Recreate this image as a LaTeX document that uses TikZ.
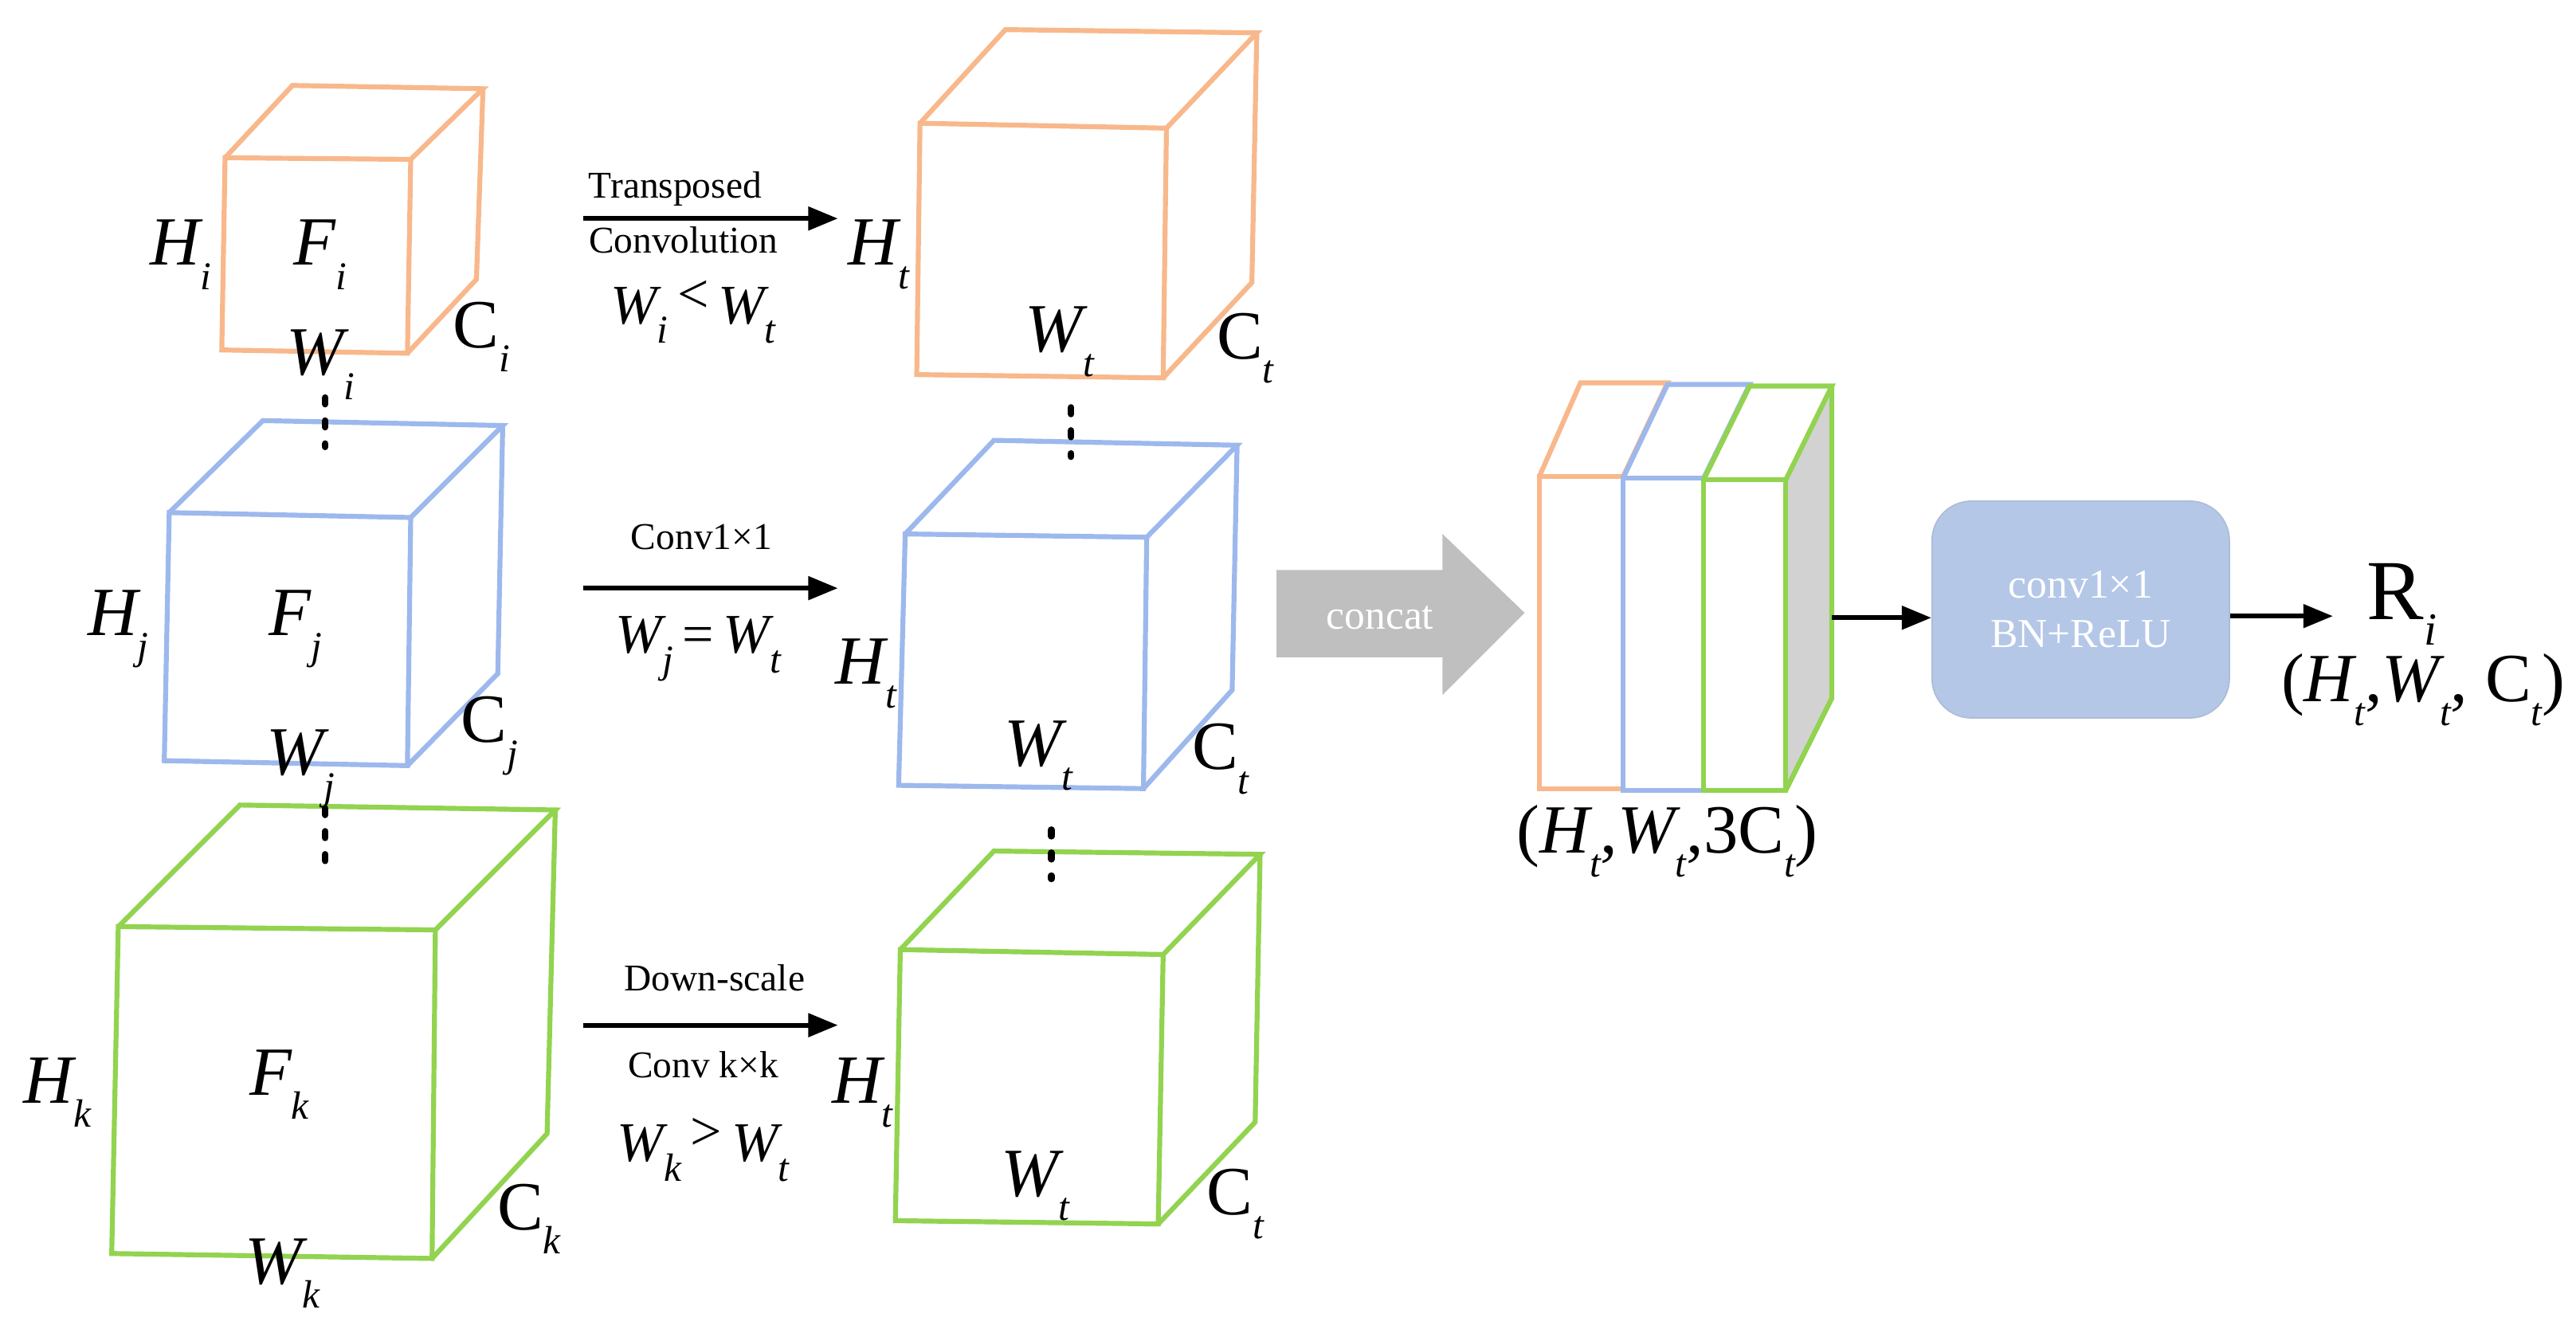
\documentclass[tikz,border=0pt]{standalone}
\usepackage{fontspec}
\setmainfont{Liberation Serif}
\usetikzlibrary{arrows.meta,shapes.arrows}
\definecolor{cor}{HTML}{F8B88B}
\definecolor{cbl}{HTML}{9DB8EC}
\definecolor{cgr}{HTML}{92D34F}
\definecolor{cbox}{HTML}{B4C7E7}
\newcommand{\vl}[2]{{\itshape #1\raisebox{-0.35em}{\fontsize{12}{12}\selectfont #2}}}
\newcommand{\cl}[1]{C\raisebox{-0.35em}{\fontsize{12}{12}\selectfont\itshape #1}}
\tikzset{
  x=0.5pt,y=-0.5pt,
  cube/.style={line width=1.5pt,line join=miter},
  big/.style={font=\fontsize{21}{21}\selectfont,inner sep=0pt},
  small/.style={font=\fontsize{11.5}{12}\selectfont,inner sep=0pt},
  arr/.style={-{Triangle[length=9pt,width=7pt]},line width=1.4pt},
  dots/.style={line width=2pt,dash pattern=on 2pt off 5pt,line cap=round}
}
\newcommand{\cube}[8]{% color, FTL,FTR,FBR,FBL,BTL,BTR,BBR
  \draw[cube,#1] #2--#3--#4--#5--cycle;
  \draw[cube,#1] #2--#6--#7--#3 #7--#8--#4;
}
\begin{document}
\begin{tikzpicture}
\useasboundingbox (0,0) rectangle (1568,816);
% left cubes
\cube{cor}{(137,96)}{(250,97)}{(248,215)}{(135,213)}{(178,52)}{(294,54)}{(290,170)}
\cube{cbl}{(103,312)}{(250,315)}{(248,466)}{(100,463)}{(160,256)}{(306,259)}{(303,410)}
\cube{cgr}{(72,564)}{(265,566)}{(263,766)}{(68,763)}{(146,490)}{(338,493)}{(333,690)}
\node[big] (hi) at (110,155) {\vl{H}{i}};
\node[big] (fi) at (195,155) {\vl{F}{i}};
\node[big] (wi) at (195,222) {\vl{W}{i}};
\node[big] (ci) at (293,205) {\cl{i}};
\node[big] (hj) at (72,383) {\vl{H}{j}};
\node[big] (fj) at (180,383) {\vl{F}{j}};
\node[big] (wj) at (183,468) {\vl{W}{j}};
\node[big] (cj) at (298,448) {\cl{j}};
\node[big] (hk) at (35,665) {\vl{H}{k}};
\node[big] (fk) at (170,660) {\vl{F}{k}};
\node[big] (wk) at (172,775) {\vl{W}{k}};
\node[big] (ck) at (322,742) {\cl{k}};
\draw[dots] (198,242) -- (198,272);
\draw[dots] (198,492) -- (198,525);
% middle arrows
\coordinate (a1s) at (355,133); \coordinate (a1e) at (510,133);
\coordinate (a2s) at (355,358); \coordinate (a2e) at (510,358);
\coordinate (a3s) at (355,624); \coordinate (a3e) at (510,624);
\draw[arr] (a1s) -- (a1e);
\draw[arr] (a2s) -- (a2e);
\draw[arr] (a3s) -- (a3e);
\node[small] (t1) at (411,115) {Transposed};
\node[small] (t2) at (416,146) {Convolution};
\node[big,font=\fontsize{17}{17}\selectfont] (t3) at (422,190) {\vl{W}{i}\,\raisebox{0.2em}{<}\,\vl{W}{t}};
\node[small] (t4) at (427,327) {Conv1×1};
\node[big,font=\fontsize{17}{17}\selectfont] (t5) at (425,395) {\vl{W}{j}\,=\,\vl{W}{t}};
\node[small] (t6) at (435,595) {Down-scale};
\node[small] (t7) at (428,648) {Conv k×k};
\node[big,font=\fontsize{17}{17}\selectfont] (t8) at (428,700) {\vl{W}{k}\,\raisebox{0.2em}{>}\,\vl{W}{t}};
% right cubes
\cube{cor}{(560,75)}{(710,78)}{(708,230)}{(558,228)}{(612,18)}{(765,20)}{(762,172)}
\cube{cbl}{(551,325)}{(698,327)}{(696,480)}{(547,478)}{(605,268)}{(753,271)}{(750,420)}
\cube{cgr}{(548,578)}{(708,581)}{(705,745)}{(545,743)}{(605,518)}{(767,520)}{(764,683)}
\node[big] (ht1) at (535,155) {\vl{H}{t}};
\node[big] (wt1) at (645,208) {\vl{W}{t}};
\node[big] (ct1) at (758,212) {\cl{t}};
\node[big] (ht2) at (527,410) {\vl{H}{t}};
\node[big] (wt2) at (632,460) {\vl{W}{t}};
\node[big] (ct2) at (743,462) {\cl{t}};
\node[big] (ht3) at (525,665) {\vl{H}{t}};
\node[big] (wt3) at (630,722) {\vl{W}{t}};
\node[big] (ct3) at (752,733) {\cl{t}};
\draw[dots] (652,248) -- (652,278);
\draw[dots] (640,505) -- (640,535);
% concat arrow
\fill[gray!50] (777,347) -- (878,347) -- (878,325) -- (928,373) -- (878,423) -- (878,400) -- (777,400) -- cycle;
\node[small,white,font=\fontsize{12.5}{13}\selectfont] (cc) at (840,376) {concat};
% stack
\fill[gray!35] (1087,292) -- (1115,235) -- (1115,425) -- (1087,480) -- cycle;
\draw[cube,cor] (937,290) rectangle (988,480);
\draw[cube,cor] (937,290) -- (962,233) -- (1015,233) -- (988,290);
\draw[cube,cbl] (988,291) rectangle (1037,481);
\draw[cube,cbl] (988,291) -- (1015,234) -- (1065,234) -- (1037,291);
\draw[cube,cgr] (1037,292) rectangle (1087,481);
\draw[cube,cgr] (1037,292) -- (1065,235) -- (1115,235) -- (1087,292);
\draw[cube,cgr] (1115,235) -- (1115,425) -- (1087,481);
\coordinate (stk) at (1115,376);
\node[big] (sl) at (1015,512) {\upshape(\vl{H}{t},\vl{W}{t},3\cl{t})};
\node[draw=cbox!85!gray,fill=cbox,rounded corners=12pt,minimum width=90.5pt,minimum height=66pt,
  align=center,font=\fontsize{12.5}{15}\selectfont,text=white] (box) at (1266.5,371) {conv1×1\\BN+ReLU};
\draw[arr] (stk) -- (stk -| box.west);
\node[inner sep=0pt,font=\fontsize{26}{26}\selectfont] (ri) at (1462,368) {R\raisebox{-0.3em}{\fontsize{14}{14}\selectfont\itshape i}};
\coordinate (rie) at (1420,375);
\draw[arr] (rie -| box.east) -- (rie);
\node[big] (rl) at (1475,420) {(\vl{H}{t},\vl{W}{t}, \cl{t})};
\end{tikzpicture}
\end{document}
